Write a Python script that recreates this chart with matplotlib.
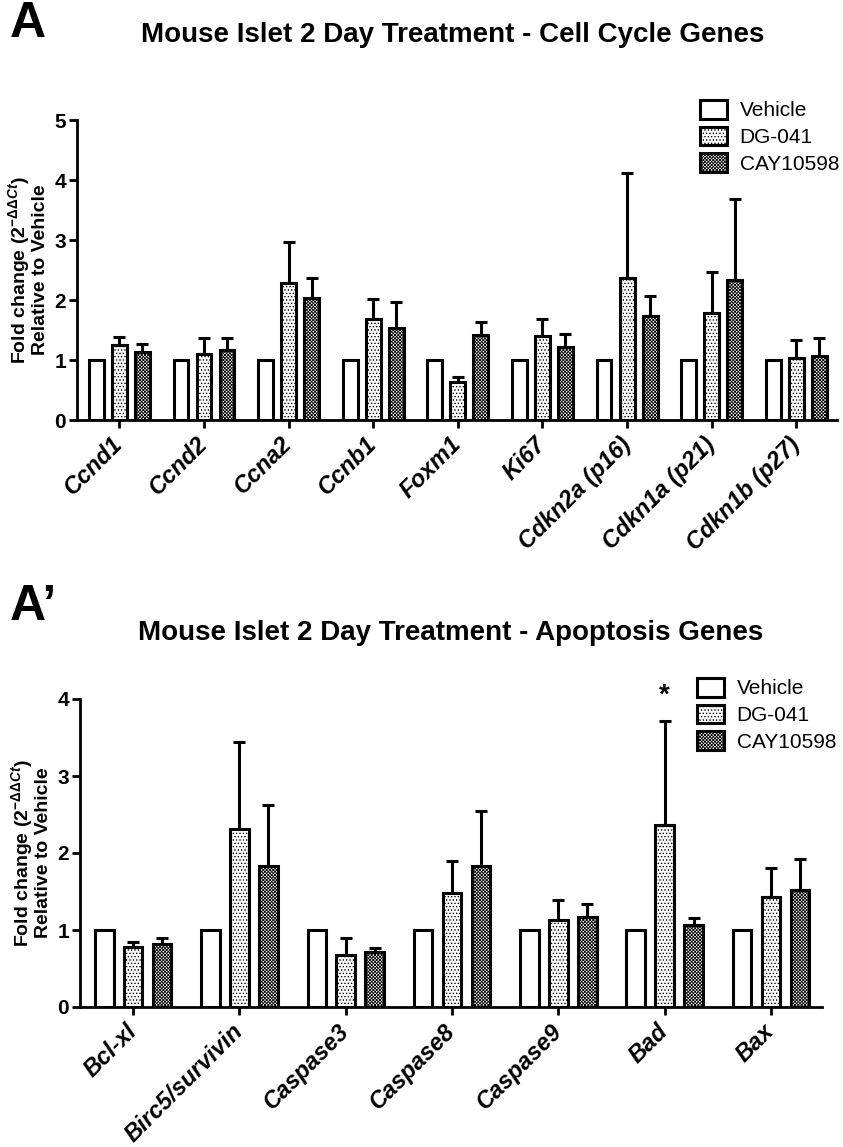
import matplotlib
matplotlib.use("Agg")
import matplotlib.pyplot as plt
import numpy as np

plt.rcParams['font.family'] = ['Liberation Sans', 'DejaVu Sans']
plt.rcParams['mathtext.fontset'] = 'custom'
plt.rcParams['mathtext.rm'] = 'Liberation Sans:bold'
plt.rcParams['mathtext.bf'] = 'Liberation Sans:bold'
plt.rcParams['mathtext.it'] = 'Liberation Sans:bold:italic'
plt.rcParams['hatch.linewidth'] = 0.6

# ---------------- Data ----------------
series = ['Vehicle', 'DG-041', 'CAY10598']

cc_genes = ['Ccnd1', 'Ccnd2', 'Ccna2', 'Ccnb1', 'Foxm1', 'Ki67',
            'Cdkn2a (p16)', 'Cdkn1a (p21)', 'Cdkn1b (p27)']
cc_vehicle = [1, 1, 1, 1, 1, 1, 1, 1, 1]
cc_dg = [1.25, 1.10, 2.29, 1.68, 0.63, 1.40, 2.37, 1.78, 1.04]
cc_dg_err = [0.14, 0.26, 0.68, 0.33, 0.08, 0.29, 1.74, 0.68, 0.29]
cc_cay = [1.13, 1.17, 2.04, 1.53, 1.42, 1.22, 1.74, 2.34, 1.06]
cc_cay_err = [0.13, 0.19, 0.33, 0.43, 0.21, 0.22, 0.33, 1.35, 0.31]

ap_genes = ['Bcl-xl', 'Birc5/survivin', 'Caspase3', 'Caspase8',
            'Caspase9', 'Bad', 'Bax']
ap_vehicle = [1, 1, 1, 1, 1, 1, 1]
ap_dg = [0.78, 2.31, 0.68, 1.475, 1.13, 2.36, 1.43]
ap_dg_err = [0.06, 1.13, 0.22, 0.415, 0.26, 1.36, 0.38]
ap_cay = [0.82, 1.83, 0.72, 1.83, 1.17, 1.07, 1.52]
ap_cay_err = [0.08, 0.79, 0.05, 0.72, 0.17, 0.08, 0.40]

cc_yticks = [0, 1, 2, 3, 4, 5]
ap_yticks = [0, 1, 2, 3, 4]

# ---------------- Figure ----------------
W, H = 843, 1147
fig = plt.figure(figsize=(W / 100, H / 100), dpi=100)

def fx(px):
    return px / W

def fy(py):
    return 1 - py / H

hatches = [None, '.....', 'xxxxxxxxxx']
offset = 0.272
width = 0.175
lw = 2.2

def panel(rect, genes, veh, dg, dg_err, cay, cay_err, yticks, leg_xy):
    ax = fig.add_axes(rect)
    x = np.arange(len(genes))
    vals = [veh, dg, cay]
    errs = [None, dg_err, cay_err]
    handles = []
    for k in range(3):
        b = ax.bar(x + (k - 1) * offset, vals[k], width=width,
                   facecolor='white', edgecolor='black', linewidth=lw,
                   hatch=hatches[k], zorder=3, label=series[k])
        handles.append(b)
        if errs[k] is not None:
            ax.errorbar(x + (k - 1) * offset, vals[k],
                        yerr=[np.zeros(len(genes)), errs[k]],
                        fmt='none', ecolor='black', elinewidth=lw,
                        capsize=4.2, capthick=lw, zorder=2)
    ax.set_xlim(-0.5, len(genes) - 0.52)
    ax.set_ylim(yticks[0], yticks[-1])
    ax.set_yticks(yticks)
    ax.set_yticklabels([str(t) for t in yticks], fontsize=15, fontweight='bold')
    ax.set_xticks(x)
    ax.set_xticklabels(genes, rotation=45, ha='right', va='center',
                       rotation_mode='anchor', fontsize=17,
                       fontweight='bold', fontstyle='italic')
    ax.tick_params(axis='x', length=6, width=2, pad=9)
    ax.tick_params(axis='y', length=6, width=2, pad=2)
    for s in ['top', 'right']:
        ax.spines[s].set_visible(False)
    for s in ['left', 'bottom']:
        ax.spines[s].set_linewidth(2)
    ax.set_ylabel('Fold change (2$^{-\\Delta\\Delta Ct}$)\nRelative to Vehicle',
                  fontsize=14, fontweight='bold', labelpad=4, linespacing=1.0)
    fig.legend(handles=handles, labels=series, loc='upper left',
               bbox_to_anchor=leg_xy, bbox_transform=fig.transFigure,
               frameon=False, fontsize=15, handlelength=1.3,
               handleheight=1.0, labelspacing=0.3, handletextpad=0.6,
               borderpad=0, borderaxespad=0)
    return ax

ax1 = panel([fx(77), fy(420), fx(837) - fx(77), fy(120) - fy(420)],
            cc_genes, cc_vehicle, cc_dg, cc_dg_err, cc_cay, cc_cay_err,
            cc_yticks, (fx(700), fy(100)))
ax2 = panel([fx(80), fy(1007), fx(822) - fx(80), fy(699) - fy(1007)],
            ap_genes, ap_vehicle, ap_dg, ap_dg_err, ap_cay, ap_cay_err,
            ap_yticks, (fx(697), fy(678)))

# significance marker above Bad (DG-041)
ax2.text(5, 3.72 + 0.16, '*', ha='center', va='bottom', fontsize=20,
         fontweight='bold')

fig.text(fx(10), fy(24), 'A', fontsize=36, fontweight='bold', va='center', ha='left')
fig.text(fx(453), fy(35), 'Mouse Islet 2 Day Treatment - Cell Cycle Genes',
         fontsize=20, fontweight='bold', ha='center', va='center')
fig.text(fx(10), fy(607), 'A\u2019', fontsize=36, fontweight='bold', va='center', ha='left')
fig.text(fx(451), fy(633), 'Mouse Islet 2 Day Treatment - Apoptosis Genes',
         fontsize=20, fontweight='bold', ha='center', va='center')

fig.savefig('out.png', dpi=100)
